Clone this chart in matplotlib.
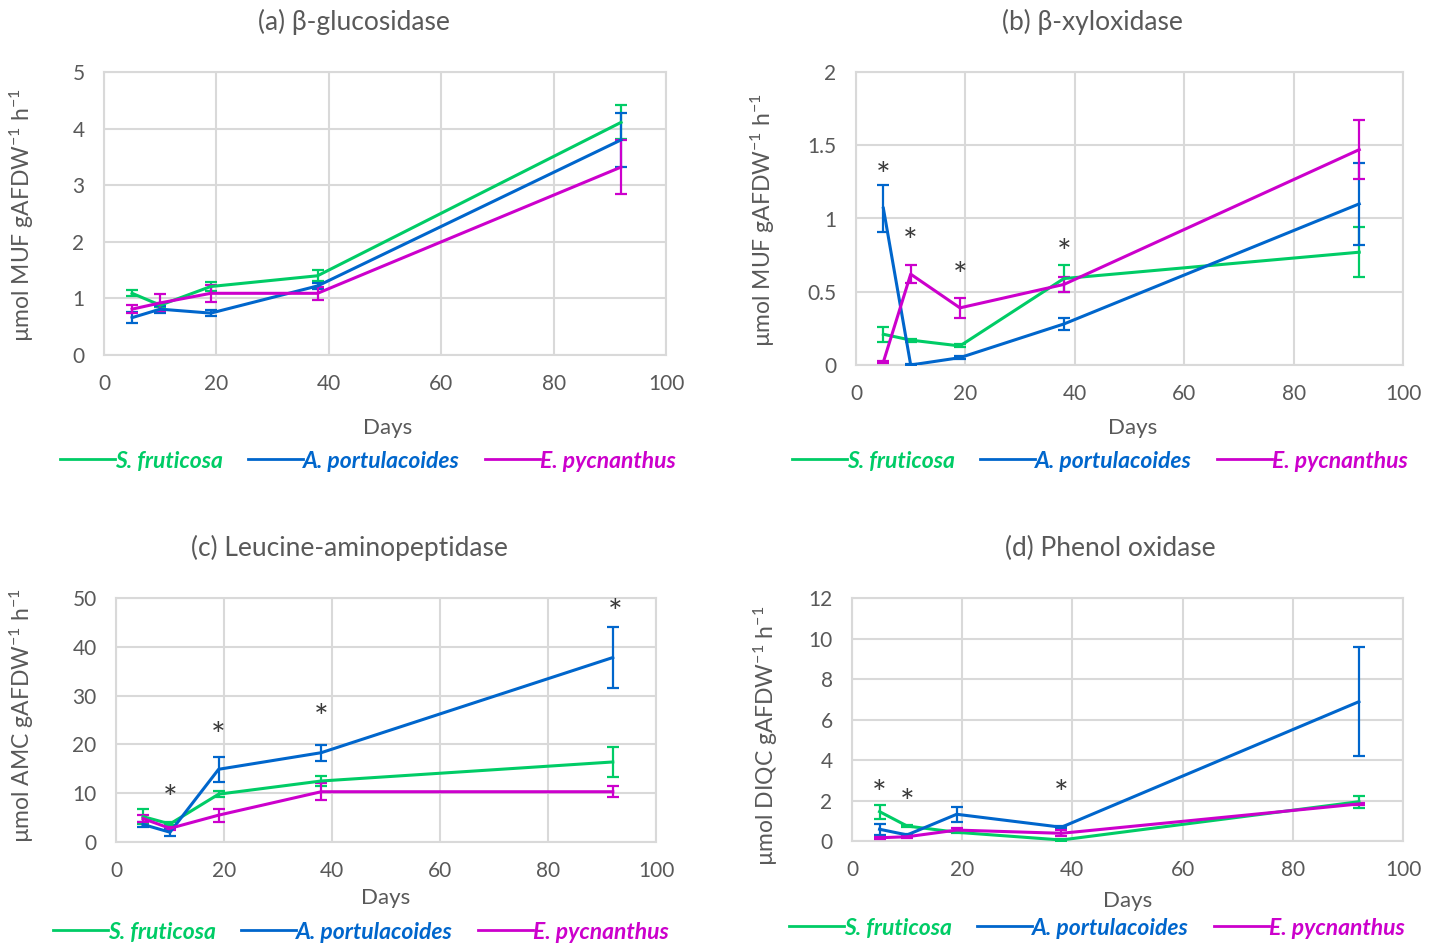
import matplotlib
matplotlib.use("Agg")
import matplotlib.pyplot as plt
from matplotlib.ticker import FuncFormatter
from matplotlib.lines import Line2D

# ----------------------------------
# Data
days = [5, 10, 19, 38, 92]

gluc_sf = [1.09, 0.88, 1.21, 1.40, 4.11]
gluc_sf_err = [0.05, 0.03, 0.08, 0.10, 0.30]
gluc_ap = [0.66, 0.81, 0.74, 1.22, 3.80]
gluc_ap_err = [0.10, 0.06, 0.05, 0.06, 0.47]
gluc_ep = [0.81, 0.92, 1.09, 1.09, 3.32]
gluc_ep_err = [0.07, 0.15, 0.15, 0.12, 0.48]

xylo_sf = [0.21, 0.17, 0.13, 0.59, 0.77]
xylo_sf_err = [0.05, 0.01, 0.01, 0.09, 0.17]
xylo_ap = [1.07, 0.0, 0.05, 0.28, 1.10]
xylo_ap_err = [0.16, 0.005, 0.01, 0.04, 0.28]
xylo_ep = [0.02, 0.62, 0.39, 0.55, 1.47]
xylo_ep_err = [0.005, 0.06, 0.07, 0.05, 0.20]

leu_sf = [5.2, 3.7, 9.8, 12.5, 16.4]
leu_sf_err = [1.5, 0.3, 0.6, 1.0, 3.0]
leu_ap = [3.6, 2.0, 14.9, 18.3, 37.8]
leu_ap_err = [0.6, 0.8, 2.6, 1.6, 6.3]
leu_ep = [4.8, 2.8, 5.5, 10.3, 10.3]
leu_ep_err = [0.8, 0.3, 1.3, 1.7, 1.1]

phen_sf = [1.45, 0.74, 0.43, 0.05, 1.94]
phen_sf_err = [0.35, 0.05, 0.05, 0.05, 0.30]
phen_ap = [0.58, 0.30, 1.32, 0.68, 6.88]
phen_ap_err = [0.27, 0.05, 0.36, 0.05, 2.70]
phen_ep = [0.16, 0.21, 0.54, 0.38, 1.83]
phen_ep_err = [0.05, 0.05, 0.10, 0.15, 0.05]

# significance stars (day, height)
xylo_star_x = [5, 10, 19, 38]
xylo_star_y = [1.28, 0.83, 0.60, 0.76]
leu_star_x = [10, 19, 38, 92.5]
leu_star_y = [8.6, 21.6, 25.2, 46.8]
phen_star_x = [5, 10, 38]
phen_star_y = [2.25, 1.85, 2.25]

species = ["S. fruticosa", "A. portulacoides", "E. pycnanthus"]
colors = ["#00CC66", "#0066CC", "#CC00CC"]

# ----------------------------------
plt.rcParams['font.family'] = ['Lato', 'DejaVu Sans']
plt.rcParams['mathtext.fontset'] = 'custom'
plt.rcParams['mathtext.rm'] = 'Lato'
plt.rcParams['mathtext.it'] = 'Lato:italic'

TXT = "#595959"
GRID = "#D9D9D9"

fig = plt.figure(figsize=(14.4, 9.47), dpi=100)


def setup_axes(rect, ymax, ystep, ylabel, ylab_xy, xlab_xy, title, title_xy):
    ax = fig.add_axes(rect)
    ax.set_xlim(0, 100)
    ax.set_ylim(0, ymax)
    ax.set_xticks(range(0, 101, 20))
    nt = int(round(ymax / ystep))
    ax.set_yticks([i * ystep for i in range(nt + 1)])
    ax.yaxis.set_major_formatter(FuncFormatter(lambda v, p: "{:g}".format(v)))
    ax.grid(True, color=GRID, linewidth=1.5)
    ax.set_axisbelow(True)
    for s in ax.spines.values():
        s.set_color(GRID)
        s.set_linewidth(1.5)
    ax.tick_params(length=0, labelsize=15, labelcolor=TXT, pad=14)
    ax.set_xlabel("Days", fontsize=16, color=TXT)
    ax.xaxis.set_label_coords(*xlab_xy)
    ax.xaxis.label.set_va('center')
    ax.set_ylabel(ylabel, fontsize=16.5, color=TXT)
    ax.yaxis.set_label_coords(*ylab_xy)
    ax.yaxis.label.set_va('center')
    fig.text(title_xy[0], title_xy[1], title, fontsize=19, color=TXT,
             ha='center', va='center')
    return ax


def draw_series(ax, series):
    for (vals, errs), c in zip(series, colors):
        ax.errorbar(days, vals, yerr=errs, color=c, linewidth=2.2,
                    elinewidth=1.6, capsize=4.5, capthick=1.6, zorder=3)


def add_stars(ax, xs, ys):
    for x, y in zip(xs, ys):
        ax.text(x, y, "*", fontsize=25, color="#3A3A3A", ha='center',
                va='center', clip_on=False)


def add_legend(cx, cy):
    handles = [Line2D([0], [0], color=c, linewidth=2) for c in colors]
    leg = fig.legend(handles, species, loc='center',
                     bbox_to_anchor=(cx / 1440, 1 - cy / 947), ncol=3,
                     frameon=False, handlelength=2.4, handletextpad=0.0,
                     columnspacing=1.1,
                     prop={'size': 16.5, 'style': 'italic', 'weight': 'bold'})
    for t, c in zip(leg.get_texts(), colors):
        t.set_color(c)


# (a)
ax_a = setup_axes([104 / 1440, 1 - 355 / 947, 562 / 1440, 283 / 947], 5, 1,
                  r'µmol MUF gAFDW$^{-1}$ h$^{-1}$', (-0.146, 0.495),
                  (0.505, -0.258), "(a) β-glucosidase", (354 / 1440, 1 - 22 / 947))
draw_series(ax_a, [(gluc_sf, gluc_sf_err), (gluc_ap, gluc_ap_err), (gluc_ep, gluc_ep_err)])
add_legend(368, 461)

# (b)
ax_b = setup_axes([856 / 1440, 1 - 365 / 947, 547 / 1440, 293 / 947], 2, 0.5,
                  r'µmol MUF gAFDW$^{-1}$ h$^{-1}$', (-0.17, 0.495),
                  (0.506, -0.215), "(b) β-xyloxidase", (1092 / 1440, 1 - 22 / 947))
draw_series(ax_b, [(xylo_sf, xylo_sf_err), (xylo_ap, xylo_ap_err), (xylo_ep, xylo_ep_err)])
add_stars(ax_b, xylo_star_x, xylo_star_y)
add_legend(1100, 461)

# (c)
ax_c = setup_axes([116 / 1440, 1 - 842 / 947, 540 / 1440, 244 / 947], 50, 10,
                  r'µmol AMC gAFDW$^{-1}$ h$^{-1}$', (-0.174, 0.516),
                  (0.50, -0.23), "(c) Leucine-aminopeptidase", (349 / 1440, 1 - 548 / 947))
draw_series(ax_c, [(leu_sf, leu_sf_err), (leu_ap, leu_ap_err), (leu_ep, leu_ep_err)])
add_stars(ax_c, leu_star_x, leu_star_y)
add_legend(361, 932)

# (d)
ax_d = setup_axes([852 / 1440, 1 - 841 / 947, 551 / 1440, 243 / 947], 12, 2,
                  r'µmol DIQC gAFDW$^{-1}$ h$^{-1}$', (-0.156, 0.432),
                  (0.50, -0.247), "(d) Phenol oxidase", (1110 / 1440, 1 - 548 / 947))
draw_series(ax_d, [(phen_sf, phen_sf_err), (phen_ap, phen_ap_err), (phen_ep, phen_ep_err)])
add_stars(ax_d, phen_star_x, phen_star_y)
add_legend(1097, 928)

fig.savefig("out.png", dpi=100)
